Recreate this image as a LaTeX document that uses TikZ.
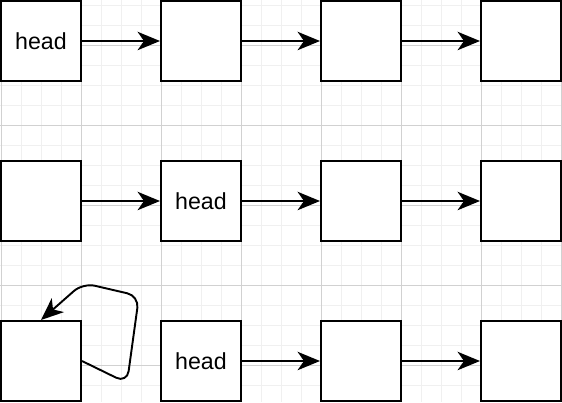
\documentclass[tikz,border=0pt]{standalone}
\usepackage{fontspec}
\setmainfont{Liberation Sans}
\usetikzlibrary{arrows.meta}

\begin{document}
\begin{tikzpicture}[x=0.25mm, y=-0.25mm]
\tikzset{maillon/.style={draw, fill=white, line width=0.5mm, minimum size=20mm, inner sep=0pt, font=\fontsize{16.5}{19}\selectfont}}
\tikzset{fleche/.style={line width=0.48mm, -{Stealth[length=5.6mm, width=4.6mm, inset=1.6mm]}}}
\useasboundingbox (0,0) rectangle (562,402);
\fill[white] (0,0) rectangle (562,402);
\foreach \x in {1,21,...,561} \draw[color=black!6, line width=0.25mm] (\x,0) -- (\x,402);
\foreach \y in {5,25,...,385} \draw[color=black!6, line width=0.25mm] (0,\y) -- (562,\y);
\foreach \x in {1,81,...,561} \draw[color=black!18, line width=0.25mm] (\x,0) -- (\x,402);
\foreach \y in {45,125,...,365} \draw[color=black!18, line width=0.25mm] (0,\y) -- (562,\y);
\node[maillon] (A1) at (41,41) {head};
\node[maillon] (A2) at (201,41) {};
\node[maillon] (A3) at (361,41) {};
\node[maillon] (A4) at (521,41) {};
\node[maillon] (B1) at (41,201) {};
\node[maillon] (B2) at (201,201) {head};
\node[maillon] (B3) at (361,201) {};
\node[maillon] (B4) at (521,201) {};
\node[maillon] (C1) at (41,361) {};
\node[maillon] (C2) at (201,361) {head};
\node[maillon] (C3) at (361,361) {};
\node[maillon] (C4) at (521,361) {};
\draw[fleche] (A1) -- (A2);
\draw[fleche] (A2) -- (A3);
\draw[fleche] (A3) -- (A4);
\draw[fleche] (B1) -- (B2);
\draw[fleche] (B2) -- (B3);
\draw[fleche] (B3) -- (B4);
\draw[fleche] (C2) -- (C3);
\draw[fleche] (C3) -- (C4);
\draw[fleche, rounded corners=3mm] (C1.east) -- (127,383) -- (139,296) -- (83,283) -- (C1.north);
\end{tikzpicture}
\end{document}
